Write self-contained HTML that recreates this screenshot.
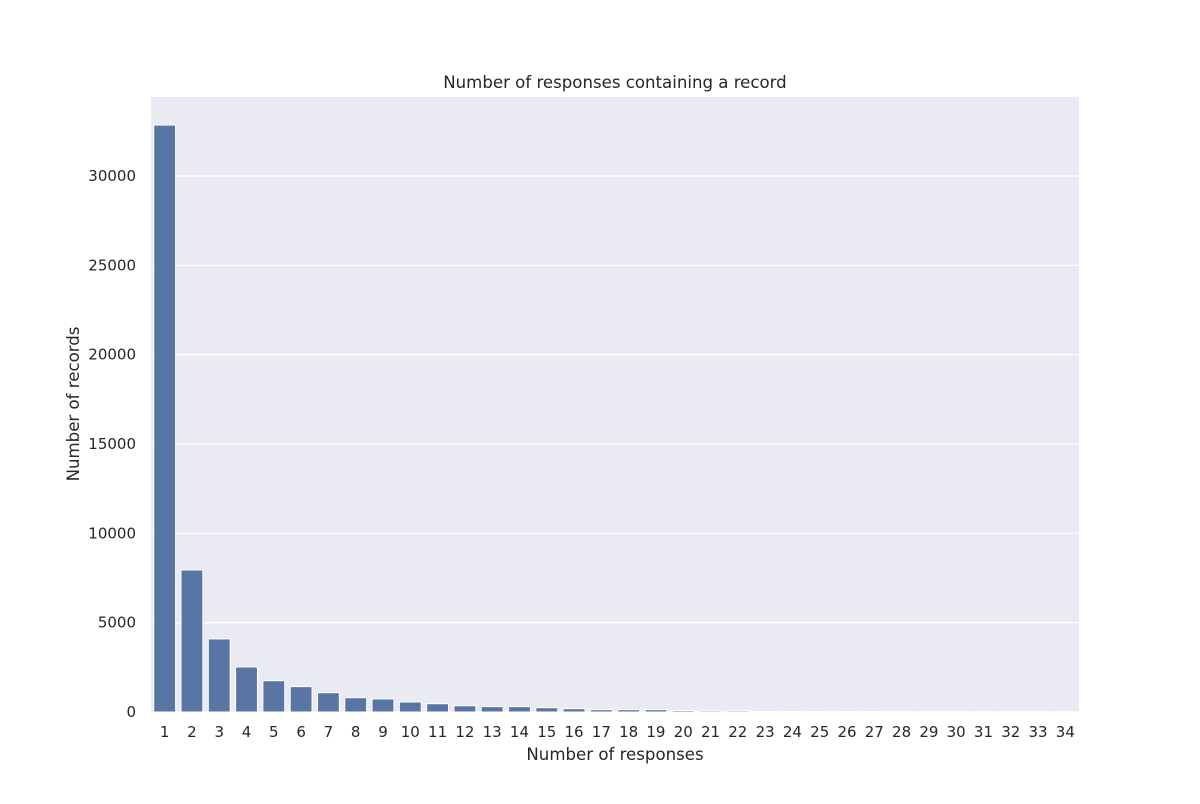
<!DOCTYPE html>
<html><head><meta charset="utf-8"><style>
body{margin:0;background:#fff;font-family:"DejaVu Sans","Liberation Sans",sans-serif;}
svg text{fill:#262626;font-family:"DejaVu Sans","Liberation Sans",sans-serif;}
</style></head><body>
<svg id="chart" width="1200" height="800" xmlns="http://www.w3.org/2000/svg">
<rect x="151" y="97" width="928" height="615" fill="#eaeaf2"/>
<g id="grid"></g><g id="bars"></g><g id="xt"></g><g id="yt"></g>
<text x="615" y="88" text-anchor="middle" font-size="16.6">Number of responses containing a record</text>
<text x="615" y="760" text-anchor="middle" font-size="16.6">Number of responses</text>
<text transform="translate(79,404) rotate(-90)" text-anchor="middle" font-size="16.6">Number of records</text>
</svg>
<script>
const categories=[1,2,3,4,5,6,7,8,9,10,11,12,13,14,15,16,17,18,19,20,21,22,23,24,25,26,27,28,29,30,31,32,33,34];
const values=[32850,7950,4090,2520,1750,1420,1080,800,730,560,465,350,300,300,240,185,130,130,130,80,70,70,30,30,25,25,25,20,20,20,20,20,20,20];
const yTicks=[0,5000,10000,15000,20000,25000,30000];
const NS="http://www.w3.org/2000/svg";
const x0=151,x1=1079,y0=712,ymax=34420,yTop=97;
const band=(x1-x0)/categories.length;
const xPos=i=>x0+band*i;
const yPos=v=>y0-(v/ymax)*(y0-yTop);
function mk(t,a,p){const e=document.createElementNS(NS,t);for(const k in a)e.setAttribute(k,a[k]);document.getElementById(p).appendChild(e);return e;}
yTicks.forEach(v=>{
 const l=mk('line',{x1:x0,x2:x1,y1:yPos(v),y2:yPos(v),stroke:'#fff','stroke-width':1.2},'grid');
 
 
 const t=mk('text',{x:136,y:yPos(v)+5,'text-anchor':'end','font-size':15},'yt');t.textContent=v;
 
 
});
categories.forEach((c,i)=>{
 const w=band*0.8;
 const r=mk('rect',{x:xPos(i)+band*0.1,y:yPos(values[i]),width:w,height:y0-yPos(values[i]),fill:'#5975a4',stroke:'#fff','stroke-width':1},'bars');
 
 
 const t=mk('text',{x:xPos(i)+band/2,y:737,'text-anchor':'middle','font-size':15},'xt');t.textContent=c;
 
 
});
</script>
</body></html>
